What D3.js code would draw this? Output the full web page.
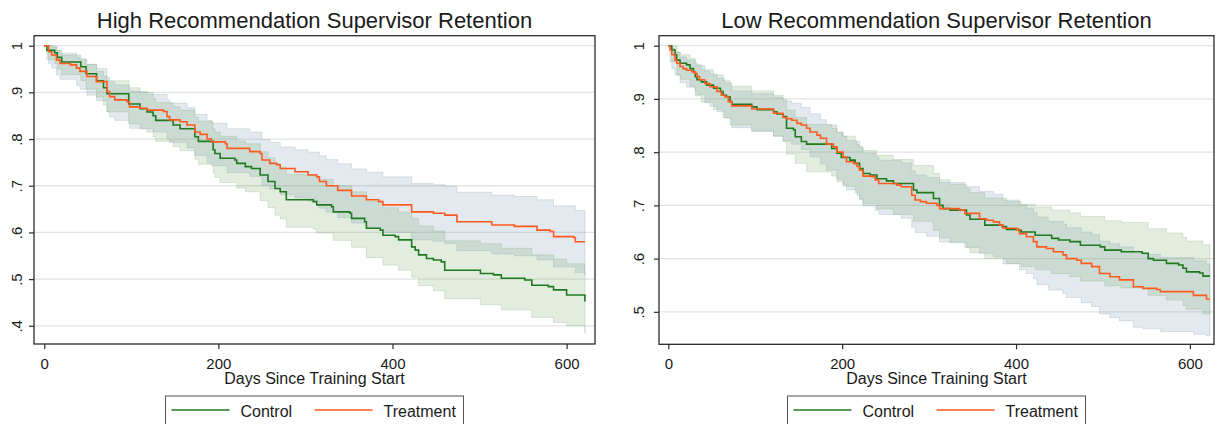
<!DOCTYPE html>
<html>
<head>
<meta charset="utf-8">
<script src="https://cdn.jsdelivr.net/npm/d3@7"></script>
<style>
  body { margin: 0; background: #fff; }
  svg { display: block; }
  text { font-family: "Liberation Sans", Arial, Helvetica, sans-serif; fill: #1a1a1a; }
</style>
</head>
<body>
<svg id="chart" width="1215" height="424"></svg>
<script>
// Kaplan-Meier retention estimates: [day, survival]
const highControlSurv = [[0,1],[3,0.99],[12,0.985],[15,0.975],[20,0.965],[42,0.955],[48,0.94],[60,0.925],[68,0.91],[72,0.897],[97,0.875],[110,0.865],[118,0.858],[125,0.85],[128,0.84],[148,0.83],[156,0.822],[173,0.805],[177,0.795],[194,0.777],[196,0.769],[202,0.759],[219,0.755],[221,0.748],[231,0.741],[238,0.737],[248,0.723],[257,0.709],[265,0.694],[271,0.687],[278,0.67],[309,0.666],[313,0.659],[330,0.655],[332,0.644],[351,0.641],[353,0.63],[368,0.623],[370,0.609],[386,0.605],[389,0.594],[403,0.591],[407,0.584],[422,0.569],[426,0.562],[430,0.552],[439,0.544],[447,0.541],[456,0.537],[460,0.519],[501,0.512],[516,0.509],[525,0.502],[552,0.498],[560,0.487],[579,0.484],[585,0.477],[600,0.466],[621,0.452]];
const highTreatSurv = [[0,1],[5,0.987],[8.5,0.98],[14,0.969],[18,0.962],[30,0.959],[37,0.952],[41,0.945],[49,0.934],[60,0.923],[72,0.902],[75,0.891],[81,0.884],[95,0.88],[98,0.869],[110,0.866],[118,0.862],[137,0.859],[141,0.848],[144,0.841],[156,0.837],[164,0.83],[173,0.815],[179,0.81],[187,0.8],[192,0.794],[208,0.79],[210,0.78],[236,0.773],[248,0.769],[250,0.755],[259,0.748],[267,0.745],[271,0.737],[288,0.73],[303,0.723],[313,0.719],[316,0.709],[324,0.70],[337,0.69],[353,0.678],[370,0.67],[384,0.666],[389,0.659],[422,0.644],[447,0.641],[460,0.637],[474,0.623],[514,0.616],[540,0.613],[566,0.605],[581,0.602],[585,0.591],[608,0.589],[610,0.58],[621,0.58]];
const lowControlSurv = [[0,1],[4,0.992],[7.7,0.983],[9.6,0.973],[13.5,0.967],[21,0.964],[25,0.957],[29,0.951],[31,0.942],[33,0.936],[38,0.932],[44,0.926],[52,0.92],[60,0.914],[63,0.907],[67,0.904],[71,0.895],[73,0.89],[96,0.885],[102,0.88],[121,0.876],[125,0.872],[132,0.867],[136,0.845],[144,0.842],[146,0.829],[153,0.82],[159,0.815],[188,0.807],[194,0.798],[199,0.79],[209,0.785],[215,0.779],[220,0.769],[224,0.76],[232,0.757],[240,0.75],[251,0.746],[259,0.741],[282,0.729],[286,0.724],[305,0.713],[312,0.70],[316,0.694],[324,0.691],[343,0.682],[347,0.674],[364,0.663],[384,0.66],[389,0.655],[403,0.653],[406,0.65],[422,0.644],[441,0.638],[449,0.635],[462,0.632],[474,0.625],[497,0.622],[502,0.616],[521,0.613],[545,0.61],[552,0.60],[558,0.597],[573,0.591],[587,0.588],[592,0.582],[596,0.575],[611,0.573],[615,0.567],[623,0.567]];
const lowTreatSurv = [[0,1],[2,0.992],[4,0.983],[7.7,0.973],[9.6,0.967],[13.5,0.961],[17,0.957],[21,0.954],[27,0.951],[31,0.948],[33,0.942],[36,0.936],[42,0.929],[48,0.923],[56,0.914],[61,0.907],[65,0.904],[69,0.895],[73,0.887],[96,0.881],[121,0.873],[132,0.865],[136,0.863],[142,0.86],[148,0.854],[153,0.851],[159,0.845],[163,0.838],[171,0.832],[175,0.826],[182,0.815],[190,0.81],[194,0.80],[201,0.791],[205,0.782],[213,0.779],[217,0.773],[220,0.766],[224,0.755],[234,0.754],[238,0.748],[242,0.741],[263,0.738],[268,0.735],[280,0.719],[284,0.71],[290,0.707],[297,0.704],[309,0.70],[312,0.694],[335,0.691],[341,0.685],[358,0.675],[366,0.672],[374,0.669],[381,0.663],[385,0.657],[401,0.654],[404,0.647],[412,0.641],[420,0.632],[424,0.622],[435,0.619],[443,0.613],[454,0.607],[458,0.60],[470,0.597],[475,0.591],[487,0.585],[496,0.572],[508,0.566],[519,0.56],[535,0.547],[546,0.544],[562,0.542],[566,0.538],[604,0.531],[619,0.524],[623,0.524]];

// 95% confidence bands: [day, lower, upper]
const highControlCI = [[0,1,1],[3,0.97,1.0],[12,0.962,0.998],[15,0.95,0.99],[20,0.938,0.98],[42,0.925,0.972],[48,0.907,0.96],[60,0.89,0.945],[68,0.873,0.935],[72,0.858,0.925],[97,0.833,0.91],[110,0.822,0.9],[125,0.805,0.887],[128,0.795,0.878],[148,0.784,0.869],[156,0.775,0.862],[173,0.757,0.847],[177,0.746,0.838],[194,0.727,0.822],[196,0.718,0.815],[202,0.707,0.806],[221,0.695,0.796],[231,0.687,0.79],[248,0.668,0.773],[257,0.653,0.76],[265,0.637,0.747],[271,0.629,0.74],[278,0.611,0.724],[309,0.607,0.72],[313,0.599,0.714],[332,0.583,0.70],[353,0.568,0.687],[370,0.546,0.667],[389,0.53,0.653],[407,0.519,0.644],[422,0.504,0.63],[430,0.486,0.614],[447,0.475,0.603],[460,0.458,0.582],[501,0.445,0.576],[525,0.434,0.566],[560,0.418,0.552],[585,0.407,0.543],[600,0.40,0.533],[621,0.384,0.52]];
const highTreatCI = [[0,1,1],[5,0.962,1.0],[8.5,0.952,0.997],[14,0.937,0.99],[18,0.928,0.984],[37,0.915,0.975],[41,0.907,0.97],[49,0.894,0.96],[60,0.882,0.951],[72,0.859,0.932],[75,0.847,0.923],[81,0.84,0.916],[98,0.823,0.902],[118,0.815,0.896],[141,0.80,0.883],[144,0.793,0.877],[164,0.781,0.867],[173,0.765,0.853],[187,0.749,0.84],[192,0.743,0.834],[210,0.728,0.822],[236,0.72,0.815],[250,0.701,0.799],[259,0.693,0.793],[271,0.681,0.783],[288,0.674,0.777],[303,0.667,0.772],[316,0.652,0.764],[324,0.643,0.756],[337,0.632,0.747],[353,0.62,0.736],[370,0.611,0.729],[389,0.60,0.719],[422,0.584,0.705],[447,0.581,0.702],[460,0.576,0.699],[474,0.561,0.686],[514,0.554,0.68],[540,0.55,0.677],[566,0.541,0.67],[585,0.526,0.657],[610,0.514,0.647],[621,0.509,0.644]];
const lowControlCI = [[0,1,1],[4,0.97,0.999],[10,0.945,0.988],[14,0.937,0.983],[25,0.924,0.976],[31,0.906,0.964],[38,0.894,0.955],[52,0.88,0.945],[63,0.865,0.934],[71,0.851,0.924],[96,0.84,0.915],[121,0.83,0.907],[132,0.82,0.899],[136,0.796,0.879],[146,0.779,0.865],[159,0.763,0.852],[188,0.755,0.845],[194,0.745,0.837],[201,0.736,0.83],[215,0.724,0.82],[220,0.713,0.811],[224,0.703,0.803],[240,0.693,0.794],[259,0.683,0.786],[282,0.67,0.775],[305,0.653,0.76],[312,0.639,0.748],[324,0.63,0.74],[343,0.62,0.732],[347,0.611,0.724],[364,0.60,0.714],[389,0.591,0.707],[406,0.585,0.702],[422,0.579,0.697],[441,0.572,0.691],[462,0.566,0.686],[474,0.558,0.679],[502,0.549,0.671],[521,0.545,0.668],[552,0.531,0.656],[573,0.522,0.648],[592,0.512,0.64],[596,0.505,0.633],[615,0.496,0.626],[623,0.496,0.626]];
const lowTreatCI = [[0,1,1],[2,0.97,0.999],[4,0.957,0.995],[7.7,0.945,0.988],[13.5,0.931,0.979],[21,0.922,0.973],[31,0.915,0.968],[33,0.908,0.963],[42,0.893,0.952],[48,0.886,0.947],[56,0.876,0.939],[65,0.864,0.93],[73,0.846,0.915],[96,0.839,0.91],[121,0.83,0.903],[132,0.821,0.896],[142,0.815,0.892],[153,0.805,0.884],[163,0.791,0.872],[175,0.778,0.861],[182,0.766,0.851],[194,0.749,0.838],[201,0.739,0.83],[205,0.729,0.822],[217,0.719,0.814],[220,0.711,0.808],[224,0.699,0.798],[238,0.691,0.791],[242,0.683,0.785],[268,0.676,0.78],[280,0.659,0.765],[284,0.649,0.757],[297,0.642,0.752],[312,0.631,0.743],[341,0.621,0.735],[358,0.61,0.726],[374,0.603,0.721],[385,0.59,0.71],[404,0.579,0.701],[412,0.572,0.695],[420,0.562,0.687],[424,0.551,0.678],[437,0.541,0.67],[454,0.534,0.665],[458,0.527,0.658],[475,0.517,0.65],[487,0.51,0.645],[496,0.496,0.633],[508,0.489,0.628],[519,0.483,0.622],[535,0.471,0.61],[546,0.468,0.608],[566,0.463,0.602],[604,0.458,0.596],[619,0.455,0.59],[623,0.455,0.59]];

// Axis ticks and labels
const xTicks = [0, 200, 400, 600];
const yTicksHigh = [0.4, 0.5, 0.6, 0.7, 0.8, 0.9, 1];
const yLabelsHigh = [".4", ".5", ".6", ".7", ".8", ".9", "1"];
const yTicksLow = [0.5, 0.6, 0.7, 0.8, 0.9, 1];
const yLabelsLow = [".5", ".6", ".7", ".8", ".9", "1"];
const titles = ["High Recommendation Supervisor Retention", "Low Recommendation Supervisor Retention"];
const xAxisTitle = "Days Since Training Start";
const legendLabels = ["Control", "Treatment"];

const COLORS = {
  control: "#1f7a1f",
  treat: "#ff5a1f",
  controlBand: "rgb(110,165,100)",
  treatBand: "rgb(115,145,175)",
  grid: "#e3e3e3",
  axis: "#2b2b2b"
};

const panels = [
  { title: titles[0], control: highControlSurv, controlCI: highControlCI, treat: highTreatSurv, treatCI: highTreatCI,
    yTicks: yTicksHigh, yLabels: yLabelsHigh,
    left: 34, right: 595, top: 35.7, bottom: 344, xDomain: [-11.8, 632.6], yDomain: [0.361, 1.0214], labelOffset: -12.5 },
  { title: titles[1], control: lowControlSurv, controlCI: lowControlCI, treat: lowTreatSurv, treatCI: lowTreatCI,
    yTicks: yTicksLow, yLabels: yLabelsLow,
    left: 659, right: 1214, top: 35.7, bottom: 344.3, xDomain: [-10.7, 627.7], yDomain: [0.439, 1.0188], labelOffset: -15.5 }
];

const svg = d3.select("#chart");

panels.forEach(p => {
  const x = d3.scaleLinear().domain(p.xDomain).range([p.left, p.right]);
  const y = d3.scaleLinear().domain(p.yDomain).range([p.bottom, p.top]);
  const g = svg.append("g");
  const cx = (p.left + p.right) / 2;

  // horizontal grid
  g.append("g").selectAll("line").data(p.yTicks).join("line")
    .attr("x1", p.left).attr("x2", p.right)
    .attr("y1", d => y(d)).attr("y2", d => y(d))
    .attr("stroke", COLORS.grid).attr("stroke-width", 1.3);

  // confidence bands
  const band = d3.area().curve(d3.curveStepAfter)
    .x(d => x(d[0])).y0(d => y(d[1])).y1(d => y(d[2]));
  [[p.treatCI, COLORS.treatBand], [p.controlCI, COLORS.controlBand]].forEach(([ci, col]) => {
    g.append("path").datum(ci)
      .attr("d", band)
      .attr("fill", col).attr("fill-opacity", 0.2)
      .attr("stroke", col).attr("stroke-opacity", 0.22).attr("stroke-width", 1);
  });

  // survival step lines
  const line = d3.line().curve(d3.curveStepAfter).x(d => x(d[0])).y(d => y(d[1]));
  [[p.control, COLORS.control], [p.treat, COLORS.treat]].forEach(([s, col]) => {
    g.append("path").datum(s)
      .attr("d", line).attr("fill", "none")
      .attr("stroke", col).attr("stroke-width", 1.6);
  });

  // plot region frame
  g.append("rect")
    .attr("x", p.left).attr("y", p.top)
    .attr("width", p.right - p.left).attr("height", p.bottom - p.top)
    .attr("fill", "none").attr("stroke", COLORS.axis).attr("stroke-width", 1.3);

  // y axis
  const yAxis = g.append("g").attr("transform", `translate(${p.left},0)`)
    .call(d3.axisLeft(y).tickValues(p.yTicks).tickSize(5)
      .tickFormat((d, i) => p.yLabels[i]));
  yAxis.select(".domain").remove();
  yAxis.selectAll("line").attr("stroke", COLORS.axis).attr("stroke-width", 1.2);
  yAxis.selectAll("text")
    .attr("x", 0).attr("dy", 0)
    .attr("text-anchor", "middle")
    .attr("transform", `translate(${p.labelOffset},0) rotate(-90)`)
    .style("font-size", "15px").style("fill", "#1a1a1a");

  // x axis
  const xAxis = g.append("g").attr("transform", `translate(0,${p.bottom})`)
    .call(d3.axisBottom(x).tickValues(xTicks).tickSize(5).tickPadding(9).tickFormat(d3.format("d")));
  xAxis.select(".domain").remove();
  xAxis.selectAll("line").attr("stroke", COLORS.axis).attr("stroke-width", 1.2);
  xAxis.selectAll("text").style("font-size", "15px").style("fill", "#1a1a1a")
    .attr("font-family", null);
  yAxis.attr("font-family", null);
  xAxis.attr("font-family", null);

  // axis title
  g.append("text").attr("x", cx).attr("y", 383.5)
    .attr("text-anchor", "middle").style("font-size", "16px")
    .text(xAxisTitle);

  // panel title
  g.append("text").attr("x", cx).attr("y", 27.5)
    .attr("text-anchor", "middle").style("font-size", "22px")
    .text(p.title);

  // legend
  const lg = g.append("g").attr("transform", `translate(${cx},0)`);
  lg.append("rect").attr("x", -149).attr("y", 396).attr("width", 298).attr("height", 40)
    .attr("fill", "#fff").attr("stroke", "#555").attr("stroke-width", 1);
  const items = [
    { label: legendLabels[0], color: COLORS.control, x0: -143 },
    { label: legendLabels[1], color: COLORS.treat, x0: 0 }
  ];
  items.forEach(it => {
    lg.append("line").attr("x1", it.x0).attr("x2", it.x0 + 58)
      .attr("y1", 410).attr("y2", 410)
      .attr("stroke", it.color).attr("stroke-width", 1.6);
    lg.append("text").attr("x", it.x0 + 69).attr("y", 416.5)
      .style("font-size", "16px").text(it.label);
  });
});
</script>
</body>
</html>
